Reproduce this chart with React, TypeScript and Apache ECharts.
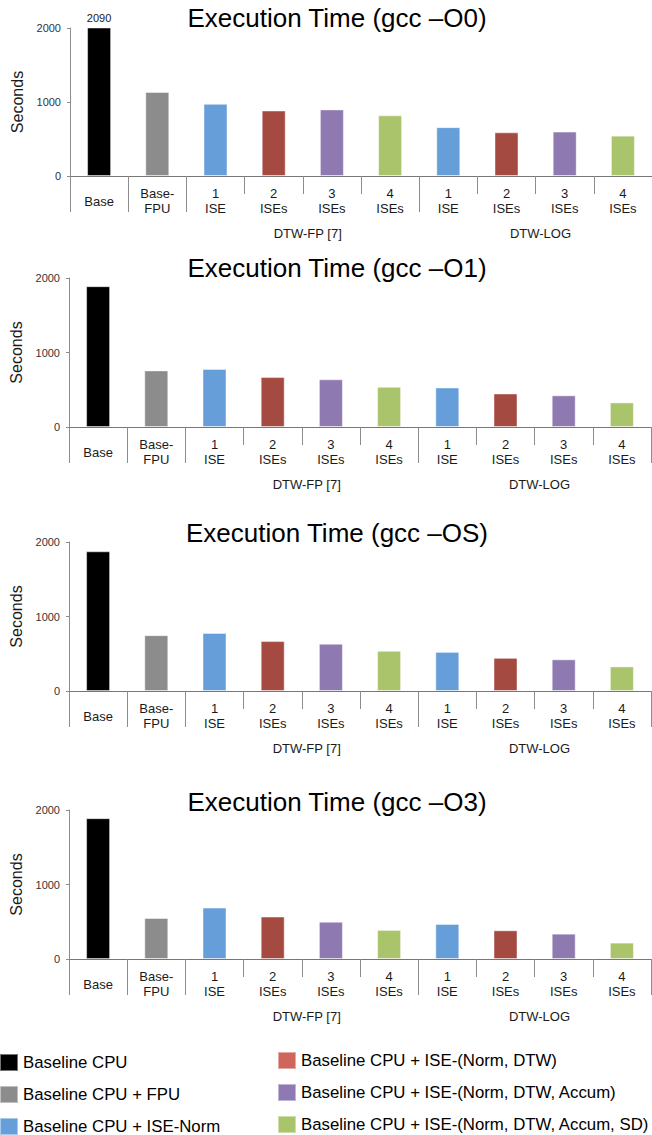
import React, { useEffect, useRef } from "react";
import * as echarts from "echarts";

// ---------- data ----------
const categoryLabels = [
  "Base",
  "Base-\nFPU",
  "1\nISE",
  "2\nISEs",
  "3\nISEs",
  "4\nISEs",
  "1\nISE",
  "2\nISEs",
  "3\nISEs",
  "4\nISEs",
];
const groupNames = ["DTW-FP [7]", "DTW-LOG"];
const groupStarts = [2, 6];
const groupSizes = [4, 4];

const seriesNames = [
  "Baseline CPU",
  "Baseline CPU + FPU",
  "Baseline CPU + ISE-Norm",
  "Baseline CPU + ISE-(Norm, DTW)",
  "Baseline CPU + ISE-(Norm, DTW, Accum)",
  "Baseline CPU + ISE-(Norm, DTW, Accum, SD)",
];
// which configuration each category bar belongs to
const categorySeries = [0, 1, 2, 3, 4, 5, 2, 3, 4, 5];

const chartTitles = [
  "Execution Time (gcc \u2013O0)",
  "Execution Time (gcc \u2013O1)",
  "Execution Time (gcc \u2013OS)",
  "Execution Time (gcc \u2013O3)",
];
const timesO0 = [2090, 1135, 975, 885, 900, 820, 660, 590, 600, 545];
const timesO1 = [1890, 760, 780, 670, 640, 540, 530, 450, 425, 330];
const timesOS = [1875, 750, 780, 670, 635, 540, 525, 445, 425, 330];
const timesO3 = [1890, 550, 690, 570, 500, 390, 470, 385, 340, 220];
const allTimes = [timesO0, timesO1, timesOS, timesO3];

const yMin = 0;
const yMax = 2000;
const yInterval = 1000;
const yAxisName = "Seconds";

// ---------- styles ----------
const barColors = ["#000000", "#8c8c8c", "#659ed9", "#a44a41", "#8e7ab0", "#aac46b"];
const legendColors = ["#000000", "#8c8c8c", "#659ed9", "#d0655c", "#8e79b3", "#aac46b"];
const FONT = '"Liberation Sans", Arial, Helvetica, sans-serif';

const panels = [
  { left: 70, top: 28, height: 148, titleY: 18 },
  { left: 69, top: 278, height: 149, titleY: 268 },
  { left: 69, top: 542, height: 149, titleY: 532.5 },
  { left: 69, top: 810, height: 149, titleY: 801.5 },
];
const GRID_W = 582;

export default function App() {
  const ref = useRef<HTMLDivElement>(null);

  useEffect(() => {
    if (!ref.current) return;
    const chart = echarts.init(ref.current, undefined, { renderer: "svg" });

    const longTickIdx = [0, 1, ...groupStarts];
    const groupRow = categoryLabels.map(() => "");
    groupNames.forEach((g, gi) => {
      groupRow[groupStarts[gi] + groupSizes[gi] / 2 - 1] = g;
    });

    const grid: any[] = [];
    const xAxis: any[] = [];
    const yAxis: any[] = [];
    const series: any[] = [];
    const graphic: any[] = [];

    panels.forEach((p, i) => {
      grid.push({ left: p.left, top: p.top, width: GRID_W, height: p.height });
      xAxis.push({
        type: "category",
        gridIndex: i,
        position: "bottom",
        data: categoryLabels,
        axisLine: { show: true, lineStyle: { color: "#777777", width: 1 } },
        axisTick: { show: true, length: 18, lineStyle: { color: "#8c8c8c" } },
        axisLabel: {
          interval: 0,
          margin: 25,
          verticalAlign: "middle",
          fontSize: 13,
          lineHeight: 15,
          color: "#1a1a1a",
          fontFamily: FONT,
        },
      });
      xAxis.push({
        type: "category",
        gridIndex: i,
        position: "bottom",
        data: groupRow,
        axisLine: { show: false },
        axisTick: {
          show: true,
          length: 36,
          interval: (idx: number) => longTickIdx.includes(idx),
          lineStyle: { color: "#8c8c8c" },
        },
        axisLabel: {
          interval: 0,
          margin: 57,
          verticalAlign: "middle",
          padding: [0, 0, 0, 68],
          fontSize: 13,
          color: "#1a1a1a",
          fontFamily: FONT,
        },
      });
      yAxis.push({
        type: "value",
        gridIndex: i,
        min: yMin,
        max: yMax,
        interval: yInterval,
        name: yAxisName,
        nameLocation: "middle",
        nameGap: 40,
        nameTextStyle: { fontSize: 16, color: "#1a1a1a", fontFamily: FONT },
        axisLine: { show: true, lineStyle: { color: "#8c8c8c" } },
        axisTick: { show: true, length: 3, lineStyle: { color: "#8c8c8c" } },
        axisLabel: {
          fontSize: 11,
          color: "#333333",
          margin: 9,
          fontFamily: FONT,
          formatter: (v: number) => String(v),
        },
        splitLine: { show: false },
      });
      seriesNames.forEach((name, s) => {
        series.push({
          type: "bar",
          name,
          xAxisIndex: 2 * i,
          yAxisIndex: i,
          stack: "panel" + i,
          barWidth: 24,
          data: allTimes[i].map((v, k) => (categorySeries[k] === s ? v : null)),
          itemStyle: {
            color: barColors[s],
            borderColor: "rgba(255,255,255,0.45)",
            borderWidth: 1,
          },
          label:
            i === 0 && s === 0
              ? {
                  show: true,
                  position: "top",
                  distance: 4,
                  fontSize: 11,
                  color: "#1a1a1a",
                  fontFamily: FONT,
                }
              : { show: false },
        });
      });
      graphic.push({
        type: "text",
        x: 337,
        y: p.titleY,
        style: {
          text: chartTitles[i],
          fontSize: 26,
          fontFamily: FONT,
          fill: "#000000",
          align: "center",
          verticalAlign: "middle",
        },
      });
    });

    const legendBase = {
      orient: "vertical",
      itemWidth: 18,
      itemHeight: 17,
      itemGap: 13,
      padding: 0,
      height: 140,
      icon: "rect",
      selectedMode: false,
      textStyle: { fontSize: 16.8, color: "#000000", fontFamily: FONT },
    };

    chart.setOption({
      animation: false,
      backgroundColor: "#ffffff",
      textStyle: { fontFamily: FONT },
      grid,
      xAxis,
      yAxis,
      series,
      graphic,
      legend: [
        {
          ...legendBase,
          left: -1,
          top: 1053,
          width: 270,
          data: seriesNames.slice(0, 3).map((n, k) => ({
            name: n,
            itemStyle: { color: legendColors[k] },
          })),
        },
        {
          ...legendBase,
          left: 277,
          top: 1051,
          width: 400,
          data: seriesNames.slice(3).map((n, k) => ({
            name: n,
            itemStyle: { color: legendColors[k + 3] },
          })),
        },
      ],
    });

    return () => chart.dispose();
  }, []);

  return (
    <div
      ref={ref}
      style={{ position: "absolute", left: 0, top: 0, width: 652, height: 1135 }}
    />
  );
}
